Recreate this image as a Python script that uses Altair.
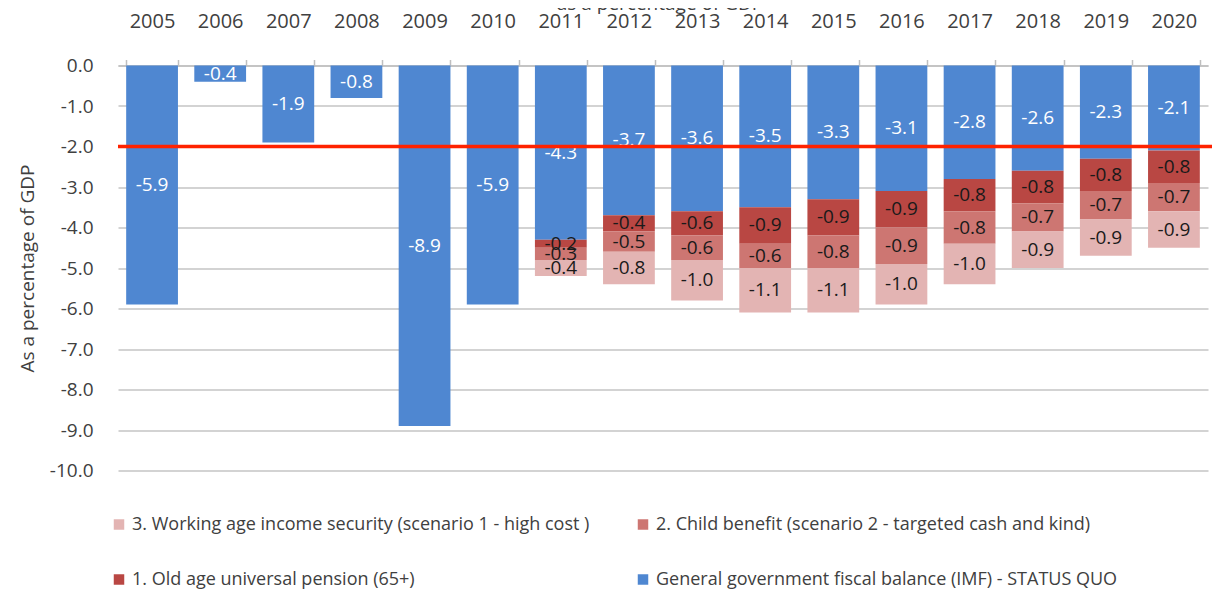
import altair as alt
import pandas as pd

years = [str(y) for y in range(2005, 2021)]
fiscal = [-5.9, -0.4, -1.9, -0.8, -8.9, -5.9, -4.3, -3.7, -3.6, -3.5, -3.3, -3.1, -2.8, -2.6, -2.3, -2.1]
old_age = [None] * 6 + [-0.2, -0.4, -0.6, -0.9, -0.9, -0.9, -0.8, -0.8, -0.8, -0.8]
child = [None] * 6 + [-0.3, -0.5, -0.6, -0.6, -0.8, -0.9, -0.8, -0.7, -0.7, -0.7]
working = [None] * 6 + [-0.4, -0.8, -1.0, -1.1, -1.1, -1.0, -1.0, -0.9, -0.9, -0.9]

s_fiscal = "General government fiscal balance (IMF) - STATUS QUO"
s_old = "1. Old age universal pension (65+)"
s_child = "2. Child benefit (scenario 2 - targeted cash and kind)"
s_work = "3. Working age income security (scenario 1 - high cost )"
# legend fills column by column: column 1 = work, old ; column 2 = child, fiscal
legend_order = [s_work, s_old, s_child, s_fiscal]
legend_colors = ["#E3B4B3", "#B94743", "#CD7672", "#4F87D1"]
stack_series = [(s_fiscal, fiscal, "white"), (s_old, old_age, "#1a1a1a"),
                (s_child, child, "#1a1a1a"), (s_work, working, "#1a1a1a")]
title_text = "as a percentage of GDP"
y_title = "As a percentage of GDP"
threshold = [-2.0]

rows = []
for i, yr in enumerate(years):
    cum = 0.0
    for name, vals, tcol in stack_series:
        v = vals[i]
        if v is None:
            continue
        start = cum
        end = cum + v
        rows.append({"year": yr, "series": name, "y0": start, "y1": end,
                     "ymid": (start + end) / 2, "label": f"{v:.1f}", "tcolor": tcol})
        cum = end
df = pd.DataFrame(rows)

FONT = "Open Sans"
GRAY = "#404040"

x_enc = alt.X("year:N", sort=years, title=None,
              scale=alt.Scale(paddingInner=0.24, paddingOuter=0.12),
              axis=alt.Axis(orient="top", labelAngle=0, labelFontSize=20, labelFont=FONT,
                            labelColor=GRAY, labelPadding=28, tickSize=6, tickBand="extent",
                            tickColor="#BFBFBF", domainColor="#BFBFBF", domainWidth=1.5,
                            tickWidth=1.5, grid=False))

bars = alt.Chart(df).mark_bar(strokeWidth=0).encode(
    x=x_enc,
    y=alt.Y("y0:Q", scale=alt.Scale(domain=[-10, 0], nice=False),
            axis=alt.Axis(values=list(range(-10, 1)), title=y_title,
                          labelExpr="datum.value < 0 ? '-' + format(-datum.value, '.1f') : format(datum.value, '.1f')",
                          labelFontSize=19, labelFont=FONT, labelColor=GRAY, labelPadding=25,
                          ticks=False, domain=False, gridColor="#C4C4C4", gridWidth=1.5,
                          titleFontSize=19, titleFont=FONT, titleColor=GRAY,
                          titleFontWeight="normal", titlePadding=12)),
    y2="y1:Q",
    color=alt.Color("series:N", scale=alt.Scale(domain=legend_order, range=legend_colors),
                    legend=alt.Legend(title=None, orient="none", legendX=-8, legendY=450,
                                      columns=2, symbolType="square", symbolSize=110,
                                      symbolStrokeWidth=0, labelFontSize=18, labelFont=FONT,
                                      labelColor=GRAY, labelLimit=700, rowPadding=37,
                                      columnPadding=44)),
)

texts = alt.Chart(df).mark_text(fontSize=19, font=FONT, baseline="middle").encode(
    x=alt.X("year:N", sort=years),
    y=alt.Y("ymid:Q"),
    text="label:N",
    color=alt.Color("tcolor:N", scale=None),
)

rule = alt.Chart(pd.DataFrame({"y": threshold})).mark_rule(color="#FF2200", strokeWidth=3.5).encode(
    y="y:Q", x=alt.value(0), x2=alt.value(1094)
)

title = alt.Chart(pd.DataFrame({"t": [title_text]})).mark_text(
    fontSize=19, font=FONT, color=GRAY, baseline="alphabetic", align="center"
).encode(text="t:N", x=alt.value(542), y=alt.value(-56))

chart = alt.layer(bars, texts, rule, title).properties(
    width=1090, height=405,
    padding={"left": 110, "top": 57.5, "right": 4, "bottom": 119},
    autosize=alt.AutoSizeParams(type="none"),
).configure_view(stroke=None)

chart.save("out.html", embed_options={"renderer": "svg", "actions": False})
